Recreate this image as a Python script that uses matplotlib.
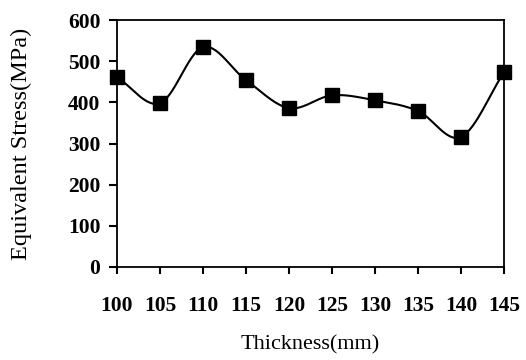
import numpy as np
import matplotlib
matplotlib.use("Agg")
import matplotlib.pyplot as plt

thickness = [100, 105, 110, 115, 120, 125, 130, 135, 140, 145]
stress = [461, 398, 534, 454, 386, 417, 405, 379, 316, 473]
xticks = [100, 105, 110, 115, 120, 125, 130, 135, 140, 145]
yticks = [0, 100, 200, 300, 400, 500, 600]

def catmull_rom(x, y, n=30):
    x = np.asarray(x, float); y = np.asarray(y, float)
    px = np.concatenate([[2*x[0]-x[1]], x, [2*x[-1]-x[-2]]])
    py = np.concatenate([[2*y[0]-y[1]], y, [2*y[-1]-y[-2]]])
    xs, ys = [], []
    t = np.linspace(0, 1, n, endpoint=False)
    for i in range(1, len(px)-2):
        for arr, out in ((px, xs), (py, ys)):
            p0, p1, p2, p3 = arr[i-1], arr[i], arr[i+1], arr[i+2]
            out.append(0.5*((2*p1) + (-p0+p2)*t + (2*p0-5*p1+4*p2-p3)*t**2 + (-p0+3*p1-3*p2+p3)*t**3))
    xs.append([x[-1]]); ys.append([y[-1]])
    return np.concatenate(xs), np.concatenate(ys)

plt.rcParams['font.family'] = ['Liberation Serif', 'DejaVu Serif']

fig = plt.figure(figsize=(5.26, 3.6), dpi=100)
ax = fig.add_axes([117/526, 1-267/360, (504-117)/526, (267-20)/360])

sx, sy = catmull_rom(thickness, stress)
ax.plot(sx, sy, color='black', lw=1.5, clip_on=False, zorder=2)
ax.plot(thickness, stress, ls='none', marker='s', ms=10.5, color='black', clip_on=False, zorder=3)

ax.set_xlim(100, 145)
ax.set_ylim(0, 600)
ax.set_xticks(xticks)
ax.set_yticks(yticks)
ax.set_xticklabels([str(v) for v in xticks], fontsize=15.5, fontweight='bold')
ax.set_yticklabels([str(v) for v in yticks], fontsize=15.5, fontweight='bold')
ax.tick_params(axis='x', direction='out', length=5, width=1.5, pad=16)
ax.tick_params(axis='y', direction='out', length=6, width=1.5, pad=6)
for s in ax.spines.values():
    s.set_linewidth(1.3)
ax.set_xlabel('Thickness(mm)', fontsize=16, labelpad=14)
ax.set_ylabel('Equivalent Stress(MPa)', fontsize=17.5, labelpad=26)

fig.savefig('out.png', dpi=100)
